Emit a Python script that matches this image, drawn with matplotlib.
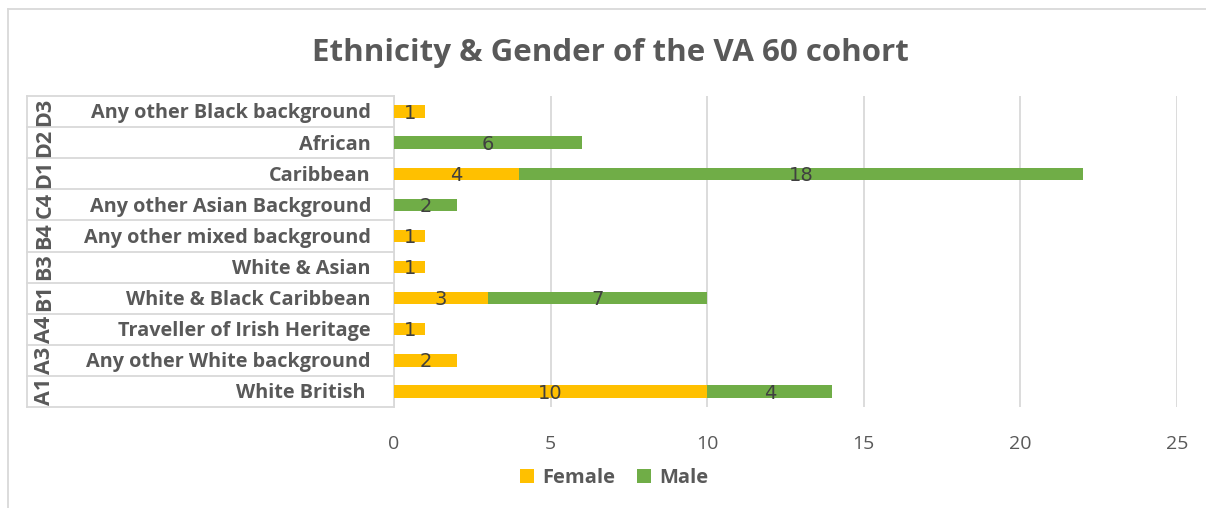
import matplotlib
matplotlib.use("Agg")
from matplotlib import pyplot as plt
from matplotlib.lines import Line2D
import numpy as np

# data, bottom row first
codes = ['A1', 'A3', 'A4', 'B1', 'B3', 'B4', 'C4', 'D1', 'D2', 'D3']
names = ['White British ', 'Any other White background', 'Traveller of Irish Heritage',
         'White & Black Caribbean', 'White & Asian', 'Any other mixed background',
         'Any other Asian Background', 'Caribbean', 'African', 'Any other Black background']
female = [10, 2, 1, 3, 1, 1, 0, 4, 0, 1]
male = [4, 0, 0, 7, 0, 0, 2, 18, 6, 0]
xticks = [0, 5, 10, 15, 20, 25]

W, H = 1206, 508
fig = plt.figure(figsize=(W/100, H/100), dpi=100)
plt.rcParams['font.family'] = ['Open Sans', 'DejaVu Sans']

L, R, T, B = 394, 1177, 96, 407
ax = fig.add_axes([L/W, 1-B/H, (R-L)/W, (B-T)/H])

grey = '#595959'
gridc = '#d9d9d9'
y = np.arange(len(codes))
ax.barh(y, female, height=0.4, color='#FFC000', label='Female', zorder=3)
ax.barh(y, male, left=female, height=0.4, color='#70AD47', label='Male', zorder=3)

for i in y:
    if female[i]:
        ax.text(female[i]/2, i - 0.05, str(female[i]), ha='center', va='center',
                fontsize=14, color='#404040', family='Liberation Sans Narrow', zorder=4)
    if male[i]:
        ax.text(female[i] + male[i]/2, i - 0.05, str(male[i]), ha='center', va='center',
                fontsize=14, color='#404040', family='Liberation Sans Narrow', zorder=4)

ax.set_xlim(0, 25)
ax.set_ylim(-0.5, len(codes) - 0.5)
ax.set_xticks(xticks)
ax.set_xticklabels([str(t) for t in xticks], color=grey, fontsize=14)
ax.tick_params(axis='x', length=0, pad=20)
ax.set_yticks([])
ax.grid(axis='x', color=gridc, linewidth=1.3, zorder=0)
for s in ['top', 'right', 'bottom']:
    ax.spines[s].set_visible(False)
ax.spines['left'].set_color(gridc)
ax.spines['left'].set_linewidth(1.3)

# category table on the left
tr = ax.get_yaxis_transform()
x0 = (27 - L) / (R - L)
for b in np.arange(-0.5, len(codes), 1.0):
    ax.add_line(Line2D([x0, 0], [b, b], transform=tr, color=gridc, lw=1.3, clip_on=False))
ax.add_line(Line2D([x0, x0], [-0.5, len(codes) - 0.5], transform=tr, color=gridc, lw=1.3, clip_on=False))
xn = (371 - L) / (R - L)
xc = (45 - L) / (R - L)
for i in y:
    ax.text(xn, i - 0.06, names[i], transform=tr, ha='right', va='center', fontsize=14.3,
            fontweight='bold', color=grey)
    ax.text(xc, i, codes[i], transform=tr, ha='center', va='center', fontsize=15.5,
            fontweight='bold', color=grey, rotation=90)

fig.text(610/W, 1-53/H, 'Ethnicity & Gender of the VA 60 cohort', ha='center', va='center',
         fontsize=22.5, fontweight='bold', color=grey)

leg = fig.legend(loc='center', bbox_to_anchor=(614/W, 1-478/H), ncol=2, frameon=False,
                 fontsize=14.5, handlelength=0.7, handleheight=0.7, handletextpad=0.4,
                 columnspacing=1.1)
for t in leg.get_texts():
    t.set_color(grey)
    t.set_fontweight('bold')

# chart border (left and top only visible)
fig.add_artist(Line2D([8/W, 8/W], [0, 1-9/H], transform=fig.transFigure, color=gridc, lw=1.3))
fig.add_artist(Line2D([8/W, 1], [1-9/H, 1-9/H], transform=fig.transFigure, color=gridc, lw=1.3))

fig.savefig('out.png', dpi=100, facecolor='white')
